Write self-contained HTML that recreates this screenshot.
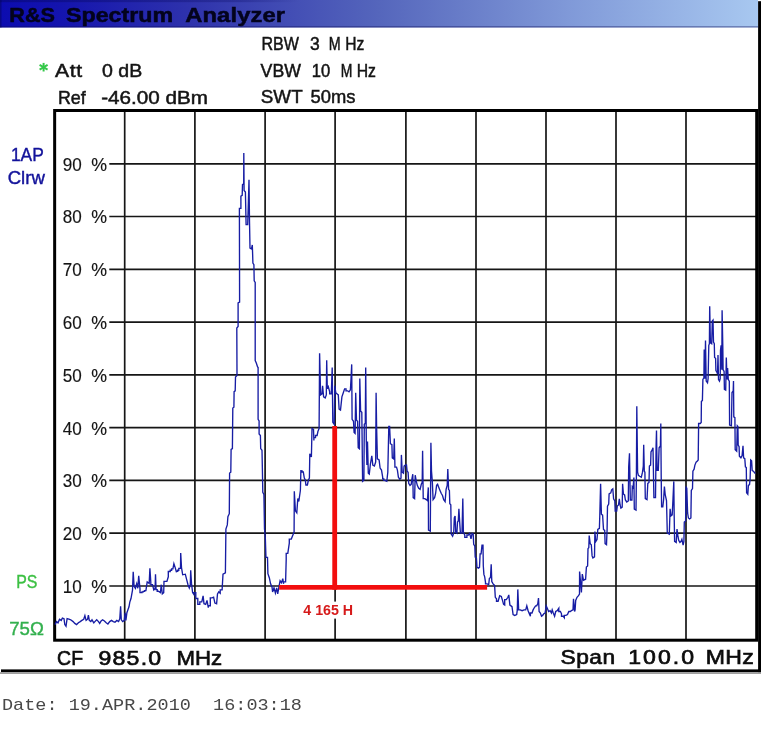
<!DOCTYPE html>
<html><head><meta charset="utf-8"><title>R&amp;S Spectrum Analyzer</title>
<style>
html,body{margin:0;padding:0;background:#fff;}
body{width:761px;height:738px;position:relative;overflow:hidden;font-family:"Liberation Sans",sans-serif;}
svg{position:absolute;left:0;top:0;}
text{white-space:pre;-webkit-font-smoothing:antialiased;}
svg{will-change:transform;}
</style></head><body>
<svg width="761" height="738" viewBox="0 0 761 738">
<defs><linearGradient id="tg" x1="0" y1="0" x2="1" y2="0">
<stop offset="0" stop-color="#0c0cb0"/><stop offset="0.08" stop-color="#1414ae"/><stop offset="0.25" stop-color="#2e32ac"/><stop offset="0.5" stop-color="#5566bc"/><stop offset="0.75" stop-color="#8099d8"/><stop offset="1" stop-color="#a8c8f0"/>
</linearGradient><linearGradient id="ts" x1="0" y1="0" x2="1" y2="0"><stop offset="0" stop-color="#05055a" stop-opacity="0.4"/><stop offset="0.8" stop-color="#05055a" stop-opacity="0.25"/><stop offset="1" stop-color="#05055a" stop-opacity="0"/></linearGradient></defs>
<rect x="0" y="0" width="761" height="738" fill="#fff"/>
<rect x="0" y="0" width="758" height="27.5" fill="url(#tg)"/>
<rect x="0" y="0" width="300" height="2.2" fill="url(#ts)"/>
<rect x="0" y="26.2" width="758" height="1.3" fill="#10105a" opacity="0.45"/>
<rect x="0" y="0" width="1.5" height="27.5" fill="#05055a" opacity="0.5"/>
<g stroke="#161616" stroke-width="1.7" fill="none"><line x1="124.7" y1="110.5" x2="124.7" y2="640.2"/><line x1="194.9" y1="110.5" x2="194.9" y2="640.2"/><line x1="265.1" y1="110.5" x2="265.1" y2="640.2"/><line x1="335.1" y1="110.5" x2="335.1" y2="640.2"/><line x1="405.9" y1="110.5" x2="405.9" y2="640.2"/><line x1="476.0" y1="110.5" x2="476.0" y2="640.2"/><line x1="546.0" y1="110.5" x2="546.0" y2="640.2"/><line x1="616.0" y1="110.5" x2="616.0" y2="640.2"/><line x1="686.0" y1="110.5" x2="686.0" y2="640.2"/><line x1="109.3" y1="163.8" x2="756" y2="163.8"/><line x1="109.3" y1="216.5" x2="756" y2="216.5"/><line x1="109.3" y1="269.3" x2="756" y2="269.3"/><line x1="109.3" y1="322.1" x2="756" y2="322.1"/><line x1="109.3" y1="374.9" x2="756" y2="374.9"/><line x1="109.3" y1="427.6" x2="756" y2="427.6"/><line x1="109.3" y1="480.4" x2="756" y2="480.4"/><line x1="109.3" y1="533.2" x2="756" y2="533.2"/><line x1="109.3" y1="586.0" x2="756" y2="586.0"/></g>
<rect x="54.65" y="110.5" width="702.0500000000001" height="529.7" fill="none" stroke="#000" stroke-width="3"/>
<rect x="758.1" y="1.2" width="3" height="671" fill="#000"/>
<rect x="1" y="669.4" width="760" height="2.7" fill="#000"/>
<rect x="0" y="672.4" width="761" height="1.3" fill="#777"/>
<g stroke="#35c84a" stroke-width="2" stroke-linecap="butt"><line x1="43.6" y1="62.9" x2="43.6" y2="71.5"/><line x1="39.6" y1="64.9" x2="47.6" y2="69.6"/><line x1="39.6" y1="69.6" x2="47.6" y2="64.9"/></g>
<polyline points="55.0,624.6 56.5,621.6 58.0,622.8 59.5,619.2 61.2,620.4 62.4,618.1 64.0,618.7 64.8,624.6 66.0,626.3 67.1,618.7 68.9,619.2 70.7,619.8 73.1,621.6 74.8,623.4 76.6,624.6 78.4,622.8 80.2,621.6 81.9,620.4 83.7,619.2 84.9,615.7 86.1,620.4 87.6,619.2 88.4,615.1 89.3,620.4 90.8,621.6 92.0,619.8 93.8,622.8 94.9,621.6 96.7,619.8 98.5,621.6 99.7,623.4 101.1,621.0 102.6,619.8 104.4,621.0 106.2,622.8 107.9,624.0 109.7,621.6 111.5,620.4 113.3,621.6 115.0,622.2 116.8,620.4 118.6,621.6 119.8,618.7 120.6,606.2 121.3,619.8 122.7,621.6 124.3,620.4 125.1,612.7 125.9,620.4 126.9,612.7 128.1,609.2 129.0,606.8 129.8,602.1 131.0,598.5 132.5,590.2 133.2,571.8 134.1,586.3 135.4,588.3 136.7,583.7 137.8,588.3 138.7,575.8 140.0,588.9 140.0,592.6 142.0,592.6 142.0,591.9 143.3,591.9 143.3,591.3 144.6,591.3 144.6,590.6 145.9,590.6 147.2,582.0 149.2,583.4 149.9,568.3 150.8,582.0 150.8,584.7 152.5,584.7 153.8,589.9 155.1,588.6 155.5,574.2 156.0,588.0 156.0,589.6 157.2,589.6 157.2,591.2 158.4,591.2 160.4,592.6 161.3,584.7 162.3,593.9 163.7,592.6 164.0,581.4 166.9,581.4 168.3,576.8 168.3,571.5 170.2,571.5 170.2,570.2 171.6,570.2 171.6,568.9 172.9,568.9 173.9,563.7 175.2,567.6 176.5,572.2 176.5,571.2 177.7,571.2 177.7,570.2 178.8,570.2 178.8,568.3 180.5,568.3 180.7,553.1 181.5,567.6 182.7,574.8 185.3,574.2 186.6,579.4 188.0,584.7 189.3,588.0 190.3,584.7 190.7,570.2 191.5,583.4 192.6,592.6 193.9,594.5 193.9,592.6 195.8,592.6 195.8,598.5 197.8,598.5 197.8,604.4 199.8,604.4 199.8,601.8 201.8,601.8 203.1,595.8 204.0,603.7 205.7,604.4 207.0,600.4 208.3,607.7 208.3,605.7 210.3,605.7 210.3,597.8 212.0,597.8 213.6,597.2 214.9,603.1 216.6,603.7 217.5,593.9 218.8,591.9 220.2,593.2 220.2,589.9 222.1,589.9 223.0,574.2 225.4,572.9 225.9,529.0 227.3,524.9 227.9,516.7 229.3,513.7 229.6,473.0 230.8,472.2 231.1,449.4 232.4,448.6 232.8,408.0 233.9,407.2 234.1,391.7 235.2,390.9 235.5,377.0 237.0,375.4 236.8,328.0 238.1,326.4 238.1,302.8 239.6,302.0 239.4,208.3 240.9,208.3 240.9,196.1 242.2,195.3 242.5,184.7 243.7,183.9 243.8,153.0 244.1,190.4 245.4,192.0 246.1,224.6 247.7,224.6 248.4,201.8 249.0,179.8 249.5,221.3 250.0,248.1 251.5,248.9 252.3,244.9 252.6,253.3 252.9,263.0 253.9,264.6 254.2,280.9 255.2,282.5 255.2,360.6 256.3,363.0 257.6,367.0 258.1,367.3 258.1,419.3 259.1,421.0 259.1,434.0 260.4,435.6 260.7,448.6 262.0,450.2 262.4,470.0 262.8,492.4 263.9,494.4 264.5,529.0 265.3,537.0 265.9,555.4 265.9,557.4 267.5,557.4 267.9,573.7 269.3,577.7 270.6,583.8 272.0,586.9 272.6,592.0 274.0,587.9 275.4,593.0 276.7,587.9 277.7,594.0 279.1,585.9 280.1,580.8 281.5,582.8 282.8,578.7 283.6,583.8 283.6,581.8 285.6,581.8 286.2,559.4 286.2,553.3 287.8,553.3 289.3,543.2 289.3,539.1 291.3,539.1 292.9,535.0 294.1,532.0 294.3,491.3 295.4,510.7 296.8,512.7 297.8,498.5 298.8,501.5 300.4,490.3 300.9,470.0 300.9,471.0 302.1,471.0 302.1,472.0 303.3,472.0 304.3,478.0 305.3,480.0 305.9,485.0 307.4,485.0 308.4,480.0 309.4,478.0 309.8,453.8 311.4,456.9 312.0,428.4 313.5,429.4 313.9,440.6 313.9,437.6 315.5,437.6 315.5,435.5 317.1,435.5 317.9,431.5 319.1,428.4 319.6,353.2 320.6,394.9 322.0,393.9 322.6,385.7 323.6,396.9 325.2,397.9 326.3,394.9 326.7,360.3 327.3,388.8 328.3,386.7 329.7,391.8 329.7,393.9 331.3,393.9 332.2,367.4 332.8,422.3 334.2,424.3 334.8,385.7 335.8,392.8 337.2,393.9 338.3,394.9 339.1,409.1 340.5,410.1 341.9,396.9 343.3,392.8 344.6,388.8 346.0,388.8 346.0,390.8 347.6,390.8 349.0,391.8 350.4,389.8 351.1,377.6 351.7,364.4 352.1,419.3 353.5,421.3 354.1,432.5 355.1,433.5 355.7,392.8 356.5,420.3 357.6,421.3 358.2,447.7 359.4,448.7 359.8,378.6 360.6,411.1 361.8,412.2 362.6,481.3 363.9,480.2 364.3,424.3 365.3,423.3 365.7,367.4 366.3,441.6 366.9,465.0 367.5,441.6 368.3,473.1 369.3,474.1 370.4,464.0 371.8,455.9 372.8,465.0 374.4,466.0 375.7,462.0 376.1,392.8 376.6,426.4 377.4,458.9 379.1,460.0 380.1,468.1 381.5,470.1 382.7,477.2 382.7,478.8 383.8,478.8 383.8,480.3 384.8,480.3 386.8,481.3 387.8,472.2 388.8,426.4 389.6,426.4 390.4,443.7 391.9,444.7 392.3,457.9 393.7,458.9 394.3,438.6 394.9,465.0 394.9,467.1 396.5,467.1 397.4,470.1 398.4,477.2 399.8,479.3 401.0,478.3 401.4,454.9 402.2,472.2 403.5,473.2 404.1,466.1 405.5,465.0 406.5,465.0 407.1,471.1 408.1,472.2 408.7,483.3 410.0,485.4 411.2,484.3 412.0,478.3 412.8,474.2 413.2,497.6 414.6,498.6 415.2,475.2 416.3,481.3 417.3,485.4 418.7,488.4 420.1,489.4 421.3,484.3 422.2,482.3 422.6,450.8 423.2,496.5 423.2,498.6 424.8,498.6 426.2,499.6 427.4,500.6 428.3,487.4 428.5,530.1 430.3,531.1 430.9,442.7 431.5,471.1 432.3,481.3 433.1,499.6 434.6,497.6 435.6,493.5 436.6,485.4 437.6,484.3 438.8,487.4 440.0,490.4 441.3,493.5 442.5,495.5 443.7,499.6 445.1,501.6 446.1,489.4 447.2,485.4 447.8,469.1 448.6,489.4 449.4,490.4 449.8,503.7 450.8,504.7 451.2,534.1 452.6,536.2 453.7,533.1 454.3,517.9 455.1,515.9 455.7,532.1 456.9,533.1 457.5,522.0 458.3,520.9 458.9,508.7 459.6,520.9 460.4,533.1 462.0,533.1 462.8,498.6 463.4,532.1 464.8,535.2 464.8,537.3 466.9,537.3 466.9,535.0 468.5,535.0 469.7,533.4 471.0,538.9 472.1,533.4 473.2,534.2 473.7,544.4 474.8,546.0 475.2,557.1 476.4,557.8 477.0,567.3 478.4,568.1 479.5,567.3 480.1,553.9 481.1,553.9 482.0,545.2 483.0,545.2 483.3,565.7 483.9,574.4 484.7,576.8 485.5,582.3 485.5,583.9 487.1,583.9 488.7,584.6 489.4,578.3 490.5,577.6 491.2,564.2 491.8,581.5 493.1,583.9 494.6,585.4 495.3,597.3 496.5,598.8 496.5,601.2 498.1,601.2 499.7,595.7 501.3,596.5 502.5,600.4 503.6,604.4 504.7,605.1 504.7,599.6 506.3,599.6 507.9,597.3 508.8,594.9 509.9,605.1 511.0,605.9 512.0,606.7 513.1,614.6 514.7,615.4 516.7,614.6 517.3,609.9 517.8,589.4 518.6,608.3 518.6,609.9 520.2,609.9 522.1,610.7 524.1,609.9 525.7,609.9 526.8,605.9 528.1,610.7 529.3,613.8 530.4,616.2 530.4,613.0 532.0,613.0 533.1,609.9 534.4,607.5 535.6,605.9 536.7,605.9 537.8,603.6 538.5,598.1 539.1,611.5 540.4,613.0 541.5,616.2 542.6,615.4 543.8,613.8 545.1,613.0 546.2,605.9 547.3,608.3 548.6,611.5 550.1,610.7 551.4,613.0 552.2,609.9 553.3,613.0 554.6,616.2 555.7,611.5 557.2,610.7 558.8,608.3 558.8,611.5 560.4,611.5 561.5,613.8 561.5,616.2 563.1,616.2 564.3,617.8 564.3,615.4 565.9,615.4 567.5,614.6 568.8,611.5 570.3,611.5 571.4,610.7 573.0,609.9 573.5,598.8 574.6,611.5 575.1,609.9 575.7,600.4 577.0,597.3 578.5,595.7 579.5,594.1 579.6,571.5 580.4,580.2 581.4,592.5 582.3,574.1 583.5,580.2 585.6,579.2 586.4,567.0 587.6,566.0 588.0,548.7 588.8,547.7 589.2,535.5 590.2,543.7 591.3,544.7 592.1,555.9 592.9,557.9 594.5,556.9 594.9,531.5 595.7,541.6 597.0,539.6 597.8,529.4 599.4,528.4 599.8,515.2 600.6,483.7 601.4,514.2 602.6,515.2 603.5,529.4 604.7,530.4 605.1,543.7 606.5,544.7 607.1,529.4 607.5,506.1 608.7,504.0 609.1,493.9 610.8,492.8 611.6,489.8 612.8,488.8 613.6,498.9 614.8,501.0 615.2,511.1 616.7,511.1 617.3,506.1 618.5,505.0 619.3,498.9 620.1,505.0 620.9,508.1 622.2,507.1 622.6,483.7 623.4,493.9 624.6,494.9 625.4,500.0 626.8,502.0 628.3,501.0 628.7,466.4 629.5,453.2 630.3,500.0 631.9,500.0 632.3,486.7 633.1,487.8 633.9,477.6 634.3,509.1 636.0,510.1 636.4,476.3 636.8,406.2 637.6,472.2 638.4,475.3 639.6,476.3 641.3,477.3 642.5,472.2 643.3,466.1 643.7,444.8 644.3,471.2 644.9,472.2 645.3,498.7 647.0,499.7 647.8,483.4 649.0,482.4 649.4,466.1 650.6,465.1 651.0,451.9 652.2,449.9 653.0,447.8 653.9,497.6 655.5,497.6 656.1,445.8 656.5,430.6 657.1,470.2 658.3,470.2 659.1,447.8 660.4,445.8 660.8,423.5 661.2,476.3 661.6,506.8 662.8,506.8 663.6,499.7 664.4,486.5 665.2,494.6 666.5,500.7 667.3,533.2 669.3,534.2 670.1,508.8 670.9,515.9 672.2,514.9 673.0,498.7 673.8,481.4 674.2,517.0 674.6,541.3 676.2,542.4 677.0,529.1 677.8,535.2 678.7,540.3 679.9,542.4 681.1,541.3 681.9,539.3 683.1,545.0 683.9,541.3 684.3,522.0 685.6,521.0 686.0,486.5 686.8,488.5 687.6,512.9 688.4,518.0 689.6,519.0 690.9,518.0 691.3,490.5 692.5,488.5 692.9,471.2 694.1,469.2 694.9,465.1 696.1,462.1 697.4,461.1 698.2,460.0 698.6,425.5 698.6,423.5 700.2,423.5 701.2,422.4 701.4,401.3 702.4,400.6 702.9,379.5 703.9,377.9 704.2,349.4 704.9,378.7 705.5,340.4 706.2,381.1 707.5,382.8 708.1,378.7 708.8,345.3 709.4,343.7 709.7,306.3 710.4,342.9 711.7,343.7 712.3,320.9 713.0,320.1 713.5,342.1 714.3,343.7 714.6,357.5 715.6,358.3 715.9,370.6 716.9,372.2 717.5,373.8 718.0,355.1 718.5,379.5 719.5,381.1 720.2,378.7 720.5,350.2 721.1,345.3 721.8,369.7 722.1,310.3 722.8,346.1 723.1,369.7 724.1,371.4 724.4,389.3 725.7,390.1 726.3,357.5 727.0,379.5 727.6,368.1 728.3,379.5 729.3,381.1 729.6,425.0 731.4,425.8 732.0,392.5 733.2,390.9 733.5,381.1 733.8,416.8 734.9,417.6 735.2,449.6 736.7,451.1 737.3,425.8 737.9,426.5 738.2,445.1 739.1,446.6 739.4,456.3 740.9,457.8 742.1,455.6 743.0,445.9 743.6,457.8 744.8,458.6 745.4,466.8 746.3,467.5 746.6,492.8 747.8,494.3 748.4,485.4 749.5,484.6 750.1,479.4 750.7,460.0 751.6,460.8 752.2,470.5 753.4,471.2 754.6,472.7 755.4,473.5" fill="none" stroke="#171da4" stroke-width="1.35" stroke-linejoin="miter"/>
<rect x="279.2" y="585" width="207.9" height="4.7" fill="#f20e0e"/>
<rect x="332.3" y="426" width="4.8" height="163.7" fill="#f20e0e"/>
<rect x="300" y="601.6" width="56" height="17" fill="#fff"/>
<text transform="translate(303.30,614.80) scale(0.9240,1)" font-family="Liberation Sans, sans-serif" font-size="15.42" font-weight="bold" fill="#d61a1a">4 165 H</text>
<text transform="translate(9.30,21.50) scale(1.0474,1)" font-family="Liberation Sans, sans-serif" font-size="20.65" font-weight="bold" fill="#03031c" stroke="#03031c" stroke-width="0.5">R&amp;S</text>
<text transform="translate(66.00,21.50) scale(1.1416,1)" font-family="Liberation Sans, sans-serif" font-size="20.36" font-weight="bold" fill="#03031c" stroke="#03031c" stroke-width="0.5">Spectrum</text>
<text transform="translate(185.20,21.50) scale(1.1500,1)" font-family="Liberation Sans, sans-serif" font-size="20.65" font-weight="bold" fill="#03031c" stroke="#03031c" stroke-width="0.5" letter-spacing="0.113">Analyzer</text>
<text transform="translate(261.50,50.00) scale(0.8635,1)" font-family="Liberation Sans, sans-serif" font-size="18.62" fill="#141414" stroke="#141414" stroke-width="0.5">RBW</text>
<text transform="translate(310.00,50.00) scale(0.9524,1)" font-family="Liberation Sans, sans-serif" font-size="18.35" fill="#141414" stroke="#141414" stroke-width="0.5">3</text>
<text transform="translate(328.80,50.00) scale(0.7678,1)" font-family="Liberation Sans, sans-serif" font-size="18.62" fill="#141414" stroke="#141414" stroke-width="0.5">M</text>
<text transform="translate(345.20,50.00) scale(0.8392,1)" font-family="Liberation Sans, sans-serif" font-size="18.62" fill="#141414" stroke="#141414" stroke-width="0.5">Hz</text>
<text transform="translate(260.60,76.80) scale(0.9732,1)" font-family="Liberation Sans, sans-serif" font-size="18.18" fill="#141414" stroke="#141414" stroke-width="0.5">VBW</text>
<text transform="translate(311.80,76.80) scale(0.9146,1)" font-family="Liberation Sans, sans-serif" font-size="18.18" fill="#141414" stroke="#141414" stroke-width="0.5">10</text>
<text transform="translate(340.70,76.80) scale(0.7664,1)" font-family="Liberation Sans, sans-serif" font-size="18.18" fill="#141414" stroke="#141414" stroke-width="0.5">M</text>
<text transform="translate(356.70,76.80) scale(0.8683,1)" font-family="Liberation Sans, sans-serif" font-size="18.18" fill="#141414" stroke="#141414" stroke-width="0.5">Hz</text>
<text transform="translate(260.80,103.40) scale(1.0047,1)" font-family="Liberation Sans, sans-serif" font-size="18.76" fill="#141414" stroke="#141414" stroke-width="0.5">SWT</text>
<text transform="translate(310.60,103.40) scale(0.9787,1)" font-family="Liberation Sans, sans-serif" font-size="18.76" fill="#141414" stroke="#141414" stroke-width="0.5">50ms</text>
<text transform="translate(55.00,76.90) scale(1.1500,1)" font-family="Liberation Sans, sans-serif" font-size="18.40" fill="#141414" stroke="#141414" stroke-width="0.5" letter-spacing="0.536">Att</text>
<text transform="translate(102.00,76.90) scale(1.0619,1)" font-family="Liberation Sans, sans-serif" font-size="18.40" fill="#141414" stroke="#141414" stroke-width="0.5">0 dB</text>
<text transform="translate(57.90,103.60) scale(0.9567,1)" font-family="Liberation Sans, sans-serif" font-size="18.69" fill="#141414" stroke="#141414" stroke-width="0.5">Ref</text>
<text transform="translate(101.20,103.60) scale(1.1052,1)" font-family="Liberation Sans, sans-serif" font-size="18.69" fill="#141414" stroke="#141414" stroke-width="0.5">-46.00 dBm</text>
<text transform="translate(10.90,160.90) scale(0.9136,1)" font-family="Liberation Sans, sans-serif" font-size="19.05" fill="#12129a" stroke="#12129a" stroke-width="0.4">1AP</text>
<text transform="translate(7.70,183.50) scale(1.0449,1)" font-family="Liberation Sans, sans-serif" font-size="17.78" fill="#12129a" stroke="#12129a" stroke-width="0.4">Clrw</text>
<text transform="translate(16.20,587.70) scale(0.8597,1)" font-family="Liberation Sans, sans-serif" font-size="18.47" fill="#3cc043" stroke="#3cc043" stroke-width="0.4">PS</text>
<text transform="translate(9.20,635.30) scale(0.9943,1)" font-family="Liberation Sans, sans-serif" font-size="18.76" fill="#33b04e" stroke="#33b04e" stroke-width="0.4">75Ω</text>
<text transform="translate(62.80,170.65) scale(0.9764,1)" font-family="Liberation Sans, sans-serif" font-size="17.49" fill="#141414" stroke="#141414" stroke-width="0.15">90</text>
<text transform="translate(91.20,170.65) scale(1.0113,1)" font-family="Liberation Sans, sans-serif" font-size="17.55" fill="#141414" stroke="#141414" stroke-width="0.15">%</text>
<text transform="translate(62.80,223.43) scale(0.9764,1)" font-family="Liberation Sans, sans-serif" font-size="17.49" fill="#141414" stroke="#141414" stroke-width="0.15">80</text>
<text transform="translate(91.20,223.43) scale(1.0113,1)" font-family="Liberation Sans, sans-serif" font-size="17.55" fill="#141414" stroke="#141414" stroke-width="0.15">%</text>
<text transform="translate(62.80,276.21) scale(0.9764,1)" font-family="Liberation Sans, sans-serif" font-size="17.49" fill="#141414" stroke="#141414" stroke-width="0.15">70</text>
<text transform="translate(91.20,276.21) scale(1.0113,1)" font-family="Liberation Sans, sans-serif" font-size="17.55" fill="#141414" stroke="#141414" stroke-width="0.15">%</text>
<text transform="translate(62.80,328.99) scale(0.9764,1)" font-family="Liberation Sans, sans-serif" font-size="17.49" fill="#141414" stroke="#141414" stroke-width="0.15">60</text>
<text transform="translate(91.20,328.99) scale(1.0113,1)" font-family="Liberation Sans, sans-serif" font-size="17.55" fill="#141414" stroke="#141414" stroke-width="0.15">%</text>
<text transform="translate(62.80,381.77) scale(0.9764,1)" font-family="Liberation Sans, sans-serif" font-size="17.49" fill="#141414" stroke="#141414" stroke-width="0.15">50</text>
<text transform="translate(91.20,381.77) scale(1.0113,1)" font-family="Liberation Sans, sans-serif" font-size="17.55" fill="#141414" stroke="#141414" stroke-width="0.15">%</text>
<text transform="translate(62.80,434.55) scale(0.9764,1)" font-family="Liberation Sans, sans-serif" font-size="17.49" fill="#141414" stroke="#141414" stroke-width="0.15">40</text>
<text transform="translate(91.20,434.55) scale(1.0113,1)" font-family="Liberation Sans, sans-serif" font-size="17.55" fill="#141414" stroke="#141414" stroke-width="0.15">%</text>
<text transform="translate(62.80,487.33) scale(0.9764,1)" font-family="Liberation Sans, sans-serif" font-size="17.49" fill="#141414" stroke="#141414" stroke-width="0.15">30</text>
<text transform="translate(91.20,487.33) scale(1.0113,1)" font-family="Liberation Sans, sans-serif" font-size="17.55" fill="#141414" stroke="#141414" stroke-width="0.15">%</text>
<text transform="translate(62.80,540.11) scale(0.9764,1)" font-family="Liberation Sans, sans-serif" font-size="17.49" fill="#141414" stroke="#141414" stroke-width="0.15">20</text>
<text transform="translate(91.20,540.11) scale(1.0113,1)" font-family="Liberation Sans, sans-serif" font-size="17.55" fill="#141414" stroke="#141414" stroke-width="0.15">%</text>
<text transform="translate(62.80,592.89) scale(0.9764,1)" font-family="Liberation Sans, sans-serif" font-size="17.49" fill="#141414" stroke="#141414" stroke-width="0.15">10</text>
<text transform="translate(91.20,592.89) scale(1.0113,1)" font-family="Liberation Sans, sans-serif" font-size="17.55" fill="#141414" stroke="#141414" stroke-width="0.15">%</text>
<text transform="translate(57.10,664.60) scale(0.9582,1)" font-family="Liberation Sans, sans-serif" font-size="20.36" fill="#0c0c0c" stroke="#0c0c0c" stroke-width="0.65">CF</text>
<text transform="translate(98.50,664.60) scale(1.1500,1)" font-family="Liberation Sans, sans-serif" font-size="20.07" fill="#0c0c0c" stroke="#0c0c0c" stroke-width="0.65" letter-spacing="1.073">985.0</text>
<text transform="translate(176.50,664.60) scale(1.0921,1)" font-family="Liberation Sans, sans-serif" font-size="20.36" fill="#0c0c0c" stroke="#0c0c0c" stroke-width="0.65">MHz</text>
<text transform="translate(560.50,664.30) scale(1.1500,1)" font-family="Liberation Sans, sans-serif" font-size="19.78" fill="#0c0c0c" stroke="#0c0c0c" stroke-width="0.65" letter-spacing="0.456">Span</text>
<text transform="translate(628.20,664.30) scale(1.1500,1)" font-family="Liberation Sans, sans-serif" font-size="20.07" fill="#0c0c0c" stroke="#0c0c0c" stroke-width="0.65" letter-spacing="1.790">100.0</text>
<text transform="translate(705.80,664.30) scale(1.1500,1)" font-family="Liberation Sans, sans-serif" font-size="20.07" fill="#0c0c0c" stroke="#0c0c0c" stroke-width="0.65" letter-spacing="0.245">MHz</text>
<text transform="translate(2.00,710.20) scale(1.0773,1)" font-family="Liberation Mono, monospace" font-size="17.19" fill="#484848">Date: 19.APR.2010  16:03:18</text>
</svg>
</body></html>
